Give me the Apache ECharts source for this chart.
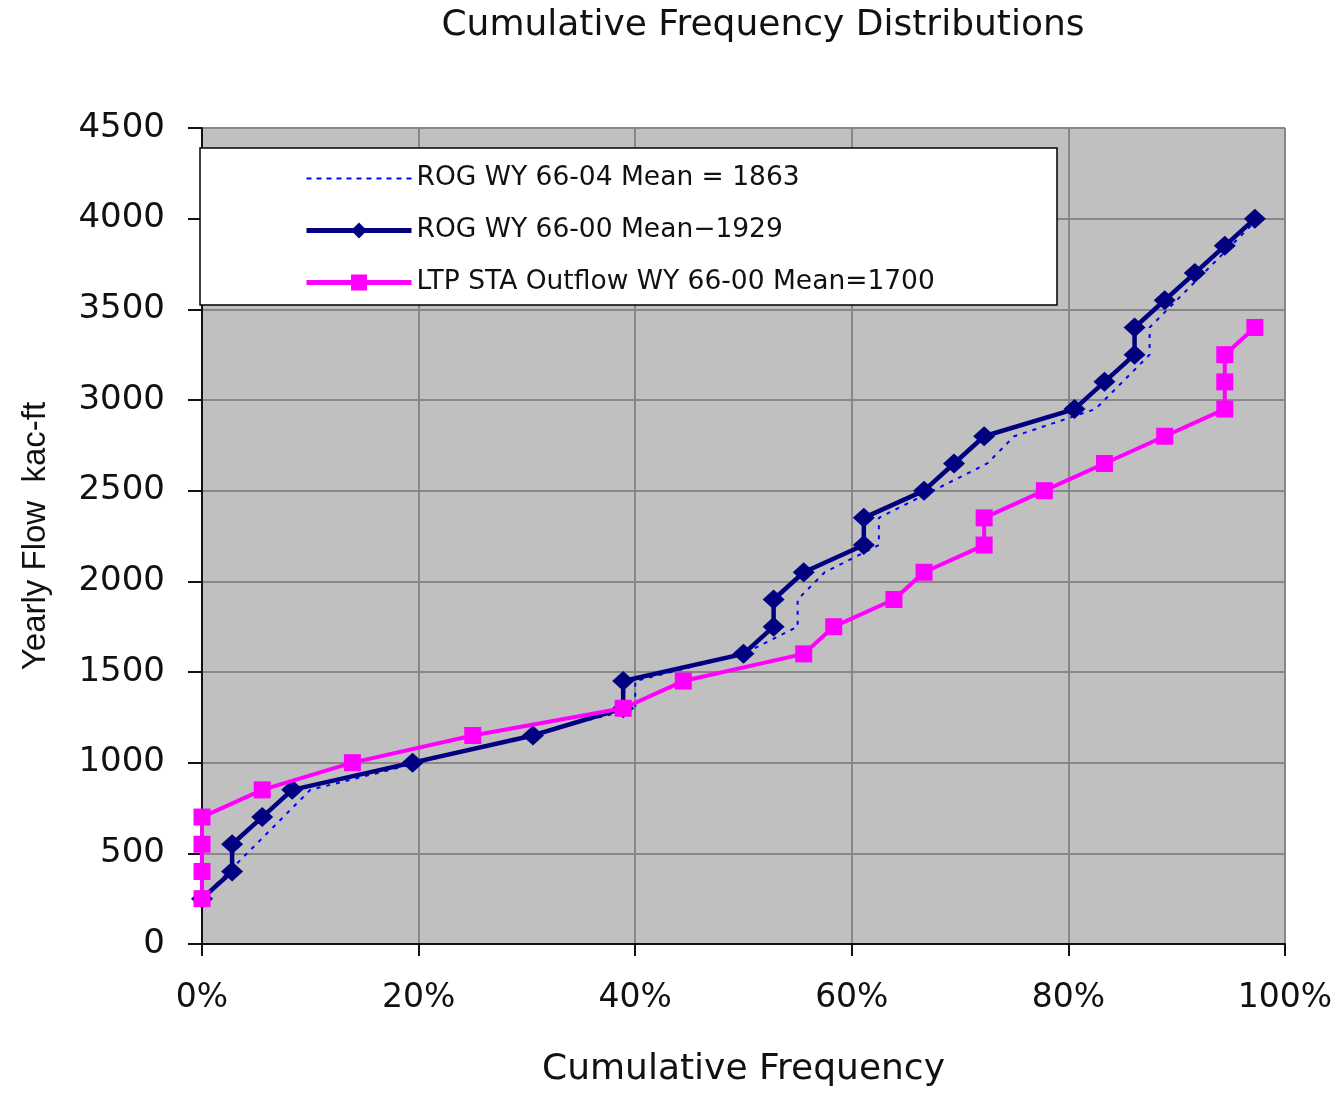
<!DOCTYPE html>
<html>
<head>
<meta charset="utf-8">
<script src="https://cdn.jsdelivr.net/npm/echarts@6/dist/echarts.min.js"></script>
<style>
html,body{margin:0;padding:0;background:#fff;}
#chart{width:1340px;height:1093px;}
</style>
</head>
<body>
<div id="chart"></div>
<script>
// Yearly flow bin values (kac-ft)
var flowValues = [250,400,550,700,850,1000,1150,1300,1450,1600,1750,1900,2050,2200,2350,2500,2650,2800,2950,3100,3250,3400,3550,3700,3850,4000];
// Cumulative frequency (%) for each series
var rog6604Freq = [0,2.5,5,7.5,10,20,30,40,40,50,55,55,57.5,62.5,62.5,67.5,72.5,75,82.5,85,87.5,87.5,90,92.5,95,97.5];
var rog6600Freq = [0,2.78,2.78,5.56,8.33,19.44,30.56,38.89,38.89,50,52.78,52.78,55.56,61.11,61.11,66.67,69.44,72.22,80.56,83.33,86.11,86.11,88.89,91.67,94.44,97.22];
var ltpFreq = [0,0,0,0,5.56,13.89,25,38.89,44.44,55.56,58.33,63.89,66.67,72.22,72.22,77.78,83.33,88.89,94.44,94.44,94.44,97.22];
var seriesNames = ['ROG WY 66-04 Mean = 1863', 'ROG WY 66-00 Mean\u22121929', 'LTP STA Outflow WY 66-00 Mean=1700'];
var yTicks = [0,500,1000,1500,2000,2500,3000,3500,4000,4500];

function pairs(freq){
  return freq.map(function(f,i){ return [f, flowValues[i]]; });
}

var chart = echarts.init(document.getElementById('chart'), null, {renderer:'canvas'});
var fontMain = '"DejaVu Sans", Verdana, sans-serif';
chart.setOption({
  animation:false,
  backgroundColor:'#ffffff',
  title:{
    text:'Cumulative Frequency Distributions',
    left:758, top:3, textAlign:'center',
    textStyle:{fontFamily:fontMain, fontSize:36, fontWeight:'normal', color:'#111'}
  },
  grid:{left:202, right:55, top:128, bottom:144, show:true, backgroundColor:'#c0c0c0', borderWidth:0},
  graphic:[{
    type:'rect', z:3,
    shape:{x:200, y:148, width:857, height:157},
    style:{fill:'#ffffff', stroke:'#000000', lineWidth:1.5}
  }],
  legend:{
    z:5,
    orient:'vertical',
    left:299, top:160,
    itemWidth:105, itemHeight:20, itemGap:25,
    textStyle:{fontFamily:fontMain, fontSize:26.5, lineHeight:27, color:'#111'},
    data:[
      {name:seriesNames[0], itemStyle:{opacity:0}, lineStyle:{width:2, type:[5,5], color:'#0000ff'}},
      {name:seriesNames[1], lineStyle:{width:5, color:'#000080'}},
      {name:seriesNames[2], lineStyle:{width:5, color:'#ff00ff'}}
    ]
  },
  xAxis:{
    type:'value', min:0, max:100, interval:20,
    name:'Cumulative Frequency', nameLocation:'middle', nameGap:108,
    nameTextStyle:{fontFamily:fontMain, fontSize:36, color:'#111'},
    axisLine:{show:true, onZero:false, lineStyle:{color:'#111', width:2}},
    axisTick:{show:true, length:12, lineStyle:{color:'#111', width:2}},
    axisLabel:{fontFamily:fontMain, fontSize:33, color:'#111', margin:38, formatter:function(v){return v+'%';}},
    splitLine:{show:true, lineStyle:{color:'#888888', width:2}}
  },
  yAxis:{
    type:'value', min:0, max:4500, interval:500,
    name:'Yearly Flow  kac-ft', nameLocation:'middle', nameGap:150,
    nameTextStyle:{fontFamily:'"Liberation Sans", Arial, sans-serif', fontSize:33, color:'#111'},
    axisLine:{show:true, lineStyle:{color:'#111', width:2}},
    axisTick:{show:true, length:14, lineStyle:{color:'#111', width:2}},
    axisLabel:{fontFamily:fontMain, fontSize:34, color:'#111', margin:37,
      formatter:function(v){ return yTicks.indexOf(v) >= 0 ? String(v) : ''; }},
    splitLine:{show:true, lineStyle:{color:'#888888', width:2}}
  },
  series:[
    {
      name:seriesNames[0], type:'line', z:2,
      data:pairs(rog6604Freq),
      showSymbol:false, symbol:'none',
      lineStyle:{color:'#0000ff', width:2, type:[4,6]},
      itemStyle:{color:'#0000ff'}
    },
    {
      name:seriesNames[1], type:'line', z:3,
      data:pairs(rog6600Freq),
      symbol:'diamond', symbolSize:[22,20],
      lineStyle:{color:'#000080', width:4.5},
      itemStyle:{color:'#000080'}
    },
    {
      name:seriesNames[2], type:'line', z:4,
      data:pairs(ltpFreq),
      symbol:'rect', symbolSize:[17,17],
      lineStyle:{color:'#ff00ff', width:4},
      itemStyle:{color:'#ff00ff'}
    }
  ]
});
</script>
</body>
</html>
